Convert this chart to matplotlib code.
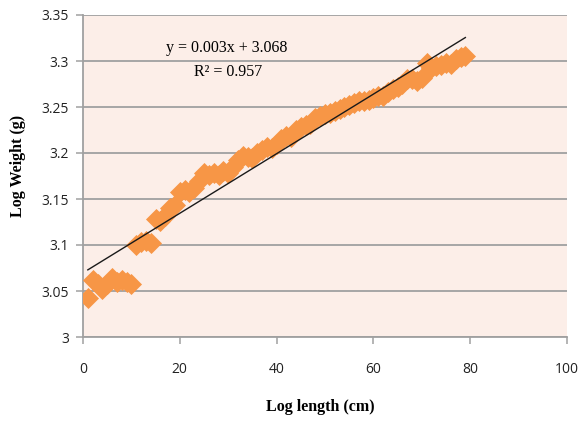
import numpy as np
import matplotlib
matplotlib.use("Agg")
import matplotlib.pyplot as plt

# Data
log_length = list(range(1, 80))
log_weight = [3.042, 3.062, 3.058, 3.052, 3.058, 3.064, 3.060, 3.062, 3.060, 3.058,
              3.100, 3.103, 3.104, 3.102, 3.128, 3.126, 3.132, 3.140, 3.143, 3.158,
              3.160, 3.158, 3.162, 3.170, 3.178, 3.176, 3.178, 3.176, 3.180, 3.178,
              3.185, 3.192, 3.197, 3.196, 3.195, 3.200, 3.203, 3.206, 3.205, 3.210,
              3.215, 3.218, 3.217, 3.225, 3.228, 3.230, 3.232, 3.238, 3.240, 3.242,
              3.244, 3.246, 3.248, 3.250, 3.252, 3.254, 3.256, 3.256, 3.258, 3.260,
              3.262, 3.262, 3.266, 3.270, 3.272, 3.275, 3.280, 3.280, 3.278, 3.282,
              3.298, 3.292, 3.295, 3.296, 3.298, 3.297, 3.302, 3.304, 3.305]

x_ticks = [0, 20, 40, 60, 80, 100]
y_ticks = [3, 3.05, 3.1, 3.15, 3.2, 3.25, 3.3, 3.35]
y_tick_labels = ["3", "3.05", "3.1", "3.15", "3.2", "3.25", "3.3", "3.35"]
equation_text = "y = 0.003x + 3.068"
r2_text = "R² = 0.957"

fig = plt.figure(figsize=(5.79, 4.21), dpi=100)
ax = fig.add_axes([83/579, 1-337/421, (567-83)/579, (337-15)/421])
ax.set_facecolor("#FCEEE8")

ax.scatter(log_length, log_weight, marker="D", s=115, color="#F79646",
           linewidths=0, zorder=3)

coef = np.polyfit(log_length, log_weight, 1)
xf = np.array([log_length[0], log_length[-1]])
ax.plot(xf, np.polyval(coef, xf), color="#1a1a1a", lw=1.0, zorder=4)

ax.set_xlim(0, 100)
ax.set_ylim(3, 3.35)
ax.set_xticks(x_ticks)
ax.set_yticks(y_ticks)
ax.set_yticklabels(y_tick_labels)
ax.yaxis.grid(True, color="#A0A0A0", lw=1.3)
ax.set_axisbelow(True)
for s in ["top", "right"]:
    ax.spines[s].set_visible(False)
for s in ["left", "bottom"]:
    ax.spines[s].set_color("#A0A0A0")
    ax.spines[s].set_linewidth(1.3)
ax.tick_params(axis="both", colors="#A0A0A0", length=5, width=1.1,
               labelcolor="#222222", labelsize=10)
ax.tick_params(axis="x", pad=13)
ax.tick_params(axis="y", pad=5)
for lab in ax.get_xticklabels() + ax.get_yticklabels():
    lab.set_fontfamily("Open Sans")

fig.text(320/579, 1-407/421, "Log length (cm)", ha="center", va="center",
         family="Liberation Serif", fontweight="bold", fontsize=11.5)
fig.text(18/579, 1-166/421, "Log Weight (g)", ha="center", va="center",
         rotation=90, family="Liberation Serif", fontweight="bold", fontsize=11.5)
fig.text(227/579, 1-48/421, equation_text, ha="center", va="center",
         family="Liberation Serif", fontsize=11.5)
fig.text(228/579, 1-72/421, r2_text, ha="center", va="center",
         family="Liberation Serif", fontsize=11.5)

fig.savefig("out.png", dpi=100)
